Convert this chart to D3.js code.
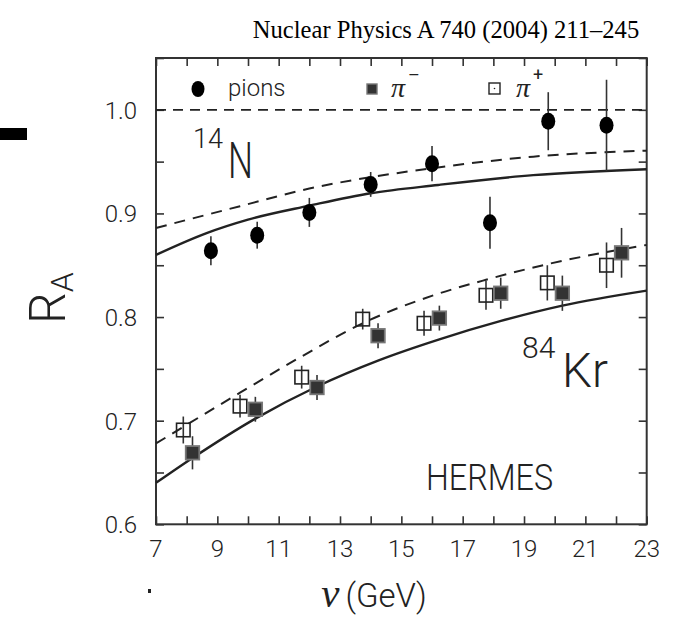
<!DOCTYPE html>
<html><head><meta charset="utf-8">
<script src="https://cdn.jsdelivr.net/npm/d3@7"></script>
<style>body{margin:0;background:#fff}svg{display:block}</style>
</head><body>
<svg id="c" width="682" height="622"></svg>
<script>
// ---- data ----
const pionNu  = [8.79, 10.30, 12.00, 14.00, 16.00, 17.89, 19.79, 21.69];
const pionR   = [0.864, 0.879, 0.901, 0.928, 0.948, 0.891, 0.989, 0.985];
const pionErr = [0.014, 0.013, 0.014, 0.012, 0.017, 0.025, 0.028, 0.044];

const piMinusNu  = [8.19, 10.24, 12.25, 14.24, 16.24, 18.24, 20.25, 22.18];
const piMinusR   = [0.669, 0.711, 0.732, 0.782, 0.799, 0.823, 0.823, 0.862];
const piMinusErr = [0.016, 0.012, 0.012, 0.012, 0.012, 0.015, 0.017, 0.024];

const piPlusNu  = [7.89, 9.74, 11.75, 13.74, 15.74, 17.76, 19.76, 21.69];
const piPlusR   = [0.691, 0.714, 0.742, 0.798, 0.794, 0.821, 0.833, 0.850];
const piPlusErr = [0.013, 0.011, 0.011, 0.010, 0.012, 0.014, 0.017, 0.022];

// model curves
const nSolidNu  = [7, 8.65, 10, 12, 14, 16.2, 19.3, 23];
const nSolidR   = [0.860, 0.881, 0.894, 0.9075, 0.9195, 0.9275, 0.937, 0.9427];
const nDashNu   = [7, 9.74, 12, 14, 16, 19.3, 23];
const nDashR    = [0.886, 0.907, 0.924, 0.935, 0.9436, 0.9548, 0.9606];
const krSolidNu = [7, 8.19, 10.24, 12.25, 14.24, 16.24, 18.22, 20.25, 23];
const krSolidR  = [0.640, 0.664, 0.702, 0.733, 0.758, 0.7785, 0.796, 0.811, 0.8255];
const krDashNu  = [7, 9.74, 11.75, 13.74, 16.2, 17.76, 19.76, 23];
const krDashR   = [0.678, 0.727, 0.762, 0.794, 0.8225, 0.836, 0.851, 0.8696];

const xTicks = d3.range(7, 24, 1);
const xLabels = [7, 9, 11, 13, 15, 17, 19, 21, 23];
const yTicks = d3.range(0.6, 1.0501, 0.05);
const yLabels = [0.6, 0.7, 0.8, 0.9, 1.0];

// ---- layout ----
const L = 156, R = 646.7, T = 58, B = 524.3;
const x = d3.scaleLinear().domain([7, 23]).range([L, R]);
const y = d3.scaleLinear().domain([0.6, 1.05]).range([B, T]);
const svg = d3.select("#c");
const ink = "#222";
const sans = "Roboto, 'DejaVu Sans', sans-serif";

// header
svg.append("text").attr("x", 446).attr("y", 38).attr("text-anchor", "middle")
  .attr("font-family", "'Liberation Serif', 'DejaVu Serif', serif").attr("font-size", 24.6)
  .attr("fill", "#000").text("Nuclear Physics A 740 (2004) 211\u2013245");
// page-edge marks
svg.append("rect").attr("x", 0).attr("y", 128).attr("width", 27).attr("height", 12).attr("fill", "#000");
svg.append("rect").attr("x", 148).attr("y", 589).attr("width", 3).attr("height", 4).attr("fill", "#222");

// frame
svg.append("rect").attr("x", L).attr("y", T).attr("width", R - L).attr("height", B - T)
  .attr("fill", "none").attr("stroke", "#333").attr("stroke-width", 2);

// axes with inward ticks
const tl = 8;
svg.append("g").attr("transform", `translate(0,${B})`)
  .call(d3.axisBottom(x).tickValues(xTicks).tickSizeInner(-tl).tickSizeOuter(0).tickFormat(""))
  .call(g => g.select(".domain").remove());
svg.append("g").attr("transform", `translate(0,${T})`)
  .call(d3.axisTop(x).tickValues(xTicks).tickSizeInner(-tl).tickSizeOuter(0).tickFormat(""))
  .call(g => g.select(".domain").remove());
svg.append("g").attr("transform", `translate(${L},0)`)
  .call(d3.axisLeft(y).tickValues(yTicks).tickSizeInner(-tl).tickSizeOuter(0).tickFormat(""))
  .call(g => g.select(".domain").remove());
svg.append("g").attr("transform", `translate(${R},0)`)
  .call(d3.axisRight(y).tickValues(yTicks).tickSizeInner(-tl).tickSizeOuter(0).tickFormat(""))
  .call(g => g.select(".domain").remove());
svg.selectAll(".tick line").attr("stroke", "#333").attr("stroke-width", 1.6);

// tick labels
svg.append("g").selectAll("text").data(xLabels).join("text")
  .attr("x", d => x(d)).attr("y", B + 33).attr("text-anchor", "middle")
  .attr("font-family", sans).attr("font-weight", 300).attr("font-size", 24).attr("fill", "#222")
  .text(d => d);
svg.append("g").selectAll("text").data(yLabels).join("text")
  .attr("x", L - 19).attr("y", d => y(d) + 9).attr("text-anchor", "end")
  .attr("font-family", sans).attr("font-weight", 300).attr("font-size", 24).attr("fill", "#222")
  .text(d => d.toFixed(1));

// axis titles
const xt = svg.append("text").attr("x", 374).attr("y", 607).attr("text-anchor", "middle").attr("fill", "#222");
xt.append("tspan").attr("font-family", "'Liberation Serif', serif").attr("font-style", "italic").attr("font-size", 41).text("\u03bd");
xt.append("tspan").attr("font-family", sans).attr("font-weight", 300).attr("font-size", 33).attr("dx", 6).text("(GeV)");
const yt = svg.append("text").attr("transform", "translate(65,324) rotate(-90)").attr("fill", "#222")
  .attr("font-family", sans).attr("font-weight", 300);
yt.append("tspan").attr("font-size", 50).text("R");
yt.append("tspan").attr("font-size", 32).attr("dy", 8).text("A");

// reference line at 1.0
svg.append("line").attr("x1", x(7)).attr("x2", x(23)).attr("y1", y(1.0)).attr("y2", y(1.0))
  .attr("stroke", ink).attr("stroke-width", 1.8).attr("stroke-dasharray", "10,7");

// model curves
const line = d3.line().x(d => x(d[0])).y(d => y(d[1])).curve(d3.curveMonotoneX);
function curve(nu, r, dashed) {
  svg.append("path").datum(nu.map((v, i) => [v, r[i]])).attr("d", line)
    .attr("fill", "none").attr("stroke", ink).attr("stroke-width", dashed ? 2 : 2.4)
    .attr("stroke-dasharray", dashed ? "11,8" : null);
}
curve(nSolidNu, nSolidR, false);
curve(nDashNu, nDashR, true);
curve(krSolidNu, krSolidR, false);
curve(krDashNu, krDashR, true);

// error bars
function errs(nu, r, e) {
  svg.append("g").selectAll("line").data(nu).join("line")
    .attr("x1", d => x(d)).attr("x2", d => x(d))
    .attr("y1", (d, i) => y(r[i] - e[i])).attr("y2", (d, i) => y(r[i] + e[i]))
    .attr("stroke", "#333").attr("stroke-width", 1.6);
}
errs(pionNu, pionR, pionErr);
errs(piMinusNu, piMinusR, piMinusErr);
errs(piPlusNu, piPlusR, piPlusErr);

// markers
svg.append("g").selectAll("ellipse").data(pionNu).join("ellipse")
  .attr("cx", d => x(d)).attr("cy", (d, i) => y(pionR[i])).attr("rx", 7).attr("ry", 8.5).attr("fill", "#000");
const s = 13.5;
svg.append("g").selectAll("rect").data(piPlusNu).join("rect")
  .attr("x", d => x(d) - s / 2).attr("y", (d, i) => y(piPlusR[i]) - s / 2).attr("width", s).attr("height", s)
  .attr("fill", "none").attr("stroke", "#222").attr("stroke-width", 1.6);
svg.append("g").selectAll("rect").data(piMinusNu).join("rect")
  .attr("x", d => x(d) - s / 2).attr("y", (d, i) => y(piMinusR[i]) - s / 2).attr("width", s).attr("height", s)
  .attr("fill", "#333").attr("stroke", "#777").attr("stroke-width", 1.8);

// legend
svg.append("ellipse").attr("cx", 198).attr("cy", 89).attr("rx", 6.5).attr("ry", 8).attr("fill", "#000");
svg.append("text").attr("x", 228).attr("y", 96).attr("font-family", sans).attr("font-weight", 300)
  .attr("font-size", 24).attr("fill", "#222").text("pions");
svg.append("rect").attr("x", 367).attr("y", 84).attr("width", 10).attr("height", 10)
  .attr("fill", "#333").attr("stroke", "#777").attr("stroke-width", 1.4);
const lm = svg.append("text").attr("x", 391).attr("y", 97).attr("fill", "#222");
lm.append("tspan").attr("font-family", "'Liberation Serif', serif").attr("font-style", "italic").attr("font-size", 28).text("\u03c0");
lm.append("tspan").attr("font-family", sans).attr("font-size", 18).attr("dx", 3).attr("dy", -16).text("\u2013");
svg.append("rect").attr("x", 489).attr("y", 83).attr("width", 11).attr("height", 11)
  .attr("fill", "none").attr("stroke", "#222").attr("stroke-width", 1.4);
svg.append("circle").attr("cx", 494.5).attr("cy", 88.5).attr("r", 0.8).attr("fill", "#222");
const lp = svg.append("text").attr("x", 516).attr("y", 97).attr("fill", "#222");
lp.append("tspan").attr("font-family", "'Liberation Serif', serif").attr("font-style", "italic").attr("font-size", 28).text("\u03c0");
lp.append("tspan").attr("font-family", sans).attr("font-size", 18).attr("dx", 3).attr("dy", -16).text("+");

// annotations
svg.append("text").attr("x", 193).attr("y", 148).attr("fill", "#222").attr("font-family", sans)
  .attr("font-weight", 300).attr("font-size", 27).text("14");
svg.append("text").attr("x", 228).attr("y", 178).attr("fill", "#222").attr("font-family", sans)
  .attr("font-weight", 300).attr("font-size", 50).attr("textLength", 25).attr("lengthAdjust", "spacingAndGlyphs").text("N");
svg.append("text").attr("x", 522).attr("y", 358).attr("fill", "#222").attr("font-family", sans)
  .attr("font-weight", 300).attr("font-size", 30).text("84");
svg.append("text").attr("x", 562).attr("y", 387).attr("fill", "#222").attr("font-family", sans)
  .attr("font-weight", 300).attr("font-size", 48).attr("textLength", 46).attr("lengthAdjust", "spacingAndGlyphs").text("Kr");
svg.append("text").attr("x", 426).attr("y", 490).attr("fill", "#222").attr("font-family", sans).attr("font-weight", 300)
  .attr("font-size", 36).attr("textLength", 127).attr("lengthAdjust", "spacingAndGlyphs").text("HERMES");
</script>
</body></html>
